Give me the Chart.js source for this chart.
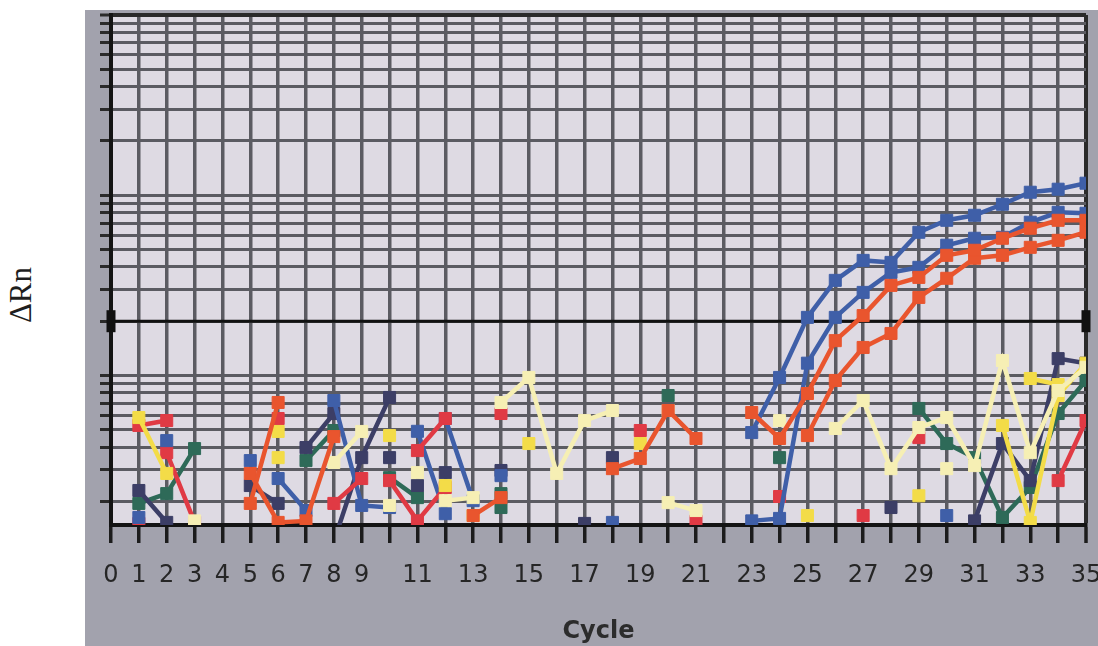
<!DOCTYPE html>
<html>
<head>
<meta charset="utf-8">
<script src="https://cdn.jsdelivr.net/npm/chart.js@4"></script>
<style>
  html, body { margin: 0; padding: 0; background: #fff; }
  body { width: 1098px; height: 646px; position: relative; overflow: hidden; }
  #panel { position: absolute; left: 85px; top: 10px; width: 1013px; height: 636px; background: #a2a2ad; }
  #ylabel { position: absolute; left: 21px; top: 295px; transform: translate(-50%, -50%) rotate(-90deg);
            font: 31px 'Liberation Serif', serif; color: #1e1e1e; white-space: nowrap; }
</style>
</head>
<body>
<div id="ylabel">ΔRn</div>
<div id="panel"><canvas id="js--chart" width="1013" height="636"></canvas></div>
<script>
const _ = null;

const cycles = [0, 1, 2, 3, 4, 5, 6, 7, 8, 9, 10, 11, 12, 13, 14, 15, 16, 17,
                18, 19, 20, 21, 22, 23, 24, 25, 26, 27, 28, 29, 30, 31, 32, 33, 34, 35];
const tickLabelCycles = [0, 1, 2, 3, 4, 5, 6, 7, 8, 9, 11, 13, 15, 17, 19, 21, 23, 25, 27, 29, 31, 33, 35];
const gridValues = [0.002, 0.003, 0.004, 0.005, 0.006, 0.007, 0.008, 0.009,
                    0.01, 0.02, 0.03, 0.04, 0.05, 0.06, 0.07, 0.08, 0.09,
                    0.1, 0.2, 0.3, 0.4, 0.5, 0.6, 0.7, 0.8, 0.9, 1];
const thresholdValue = 0.02;

// amplification curves (cycles 0-35)
const blueA = [
  _, .00163, _, _, _, .00337,
  _, _, _, _, _, _,
  _, _, .00278, _, _, _,
  .00153, _, _, _, _, .00482,
  .00975, .0210, .0337, .0435, .0424, .0623,
  .0726, .0774, .0891, .1039, .1080, .1166
];
const blueB = [
  _, _, .00435, _, _, _,
  .00268, .00178, _, _, _, _,
  _, _, _, _, _, _,
  _, _, _, _, _, .00156,
  .00161, .0117, .0210, .0289, .0373, .0398,
  .0528, .0577, .0584, .0708, .0804, .0794
];
const orangeA = [
  _, _, _, _, _, .00195,
  .00708, _, _, _, _, _,
  _, .00167, .00210, _, _, _,
  .00304, .00346, .00639, .00447, _, .00623,
  .00447, .00794, .0156, .0215, .0316, .0350,
  .0464, .0495, .0577, .0656, .0726, .0726
];
const orangeB = [
  _, _, _, _, _, .00286,
  .00153, .00156, .00458, _, _, _,
  _, _, _, _, _, _,
  _, _, _, _, _, _,
  _, .00464, .00938, .0143, .0171, .0271,
  .0346, .0447, .0464, .0514, .0562, .0623
];

// background wells
const blueC = [
  _, _, _, _, _, _,
  _, _, .00726, .00190, .00185, _,
  .00577, .00202, _, _, _, _,
  _, _, _, _, _, _,
  _, _, _, _, _, _,
  _, _, _, _, _, _
];
const blueD = [
  _, _, _, _, _, _,
  _, _, _, _, _, .00490,
  .00171, _, _, _, _, _,
  _, _, _, _, _, _,
  _, _, _, _, _, _,
  .00167, _, _, _, _, _
];
const navyA = [
  _, .00230, .00153, _, _, .00245,
  .00195, _, .0012, .00350, .00755, _,
  .00289, _, _, _, _, .00151,
  _, _, _, _, _, _,
  _, _, _, _, .00185, _,
  _, .00156, .00419, .00261, .0124, .0117
];
const navyB = [
  _, _, _, _, _, _,
  _, .00398, .00615, _, .00350, _,
  _, _, .00297, _, _, _,
  .00350, _, _, _, _, _,
  _, _, _, _, _, _,
  _, _, _, _, _, _
];
const navyC = [
  _, _, _, _, _, _,
  _, _, _, _, _, .00245,
  _, _, _, _, _, _,
  _, _, _, _, _, _,
  _, _, _, _, _, _,
  _, _, _, _, _, _
];
const tealA = [
  _, .00195, .00221, .00393, _, _,
  _, .00337, .00495, _, .00271, .00210,
  _, _, .00221, _, _, _,
  _, _, .00774, _, _, _,
  .00350, _, _, _, _, .00656,
  .00419, .00350, .00163, .00239, .00615, .00938
];
const tealB = [
  _, _, _, _, _, _,
  _, _, _, _, _, _,
  _, _, .00185, _, _, _,
  _, _, _, _, _, _,
  _, _, _, _, _, _,
  _, _, _, _, _, _
];
const redA = [
  _, .00528, .00562, _, _, _,
  .00577, _, .00195, .00268, _, .00383,
  .00577, _, .00615, _, _, _,
  _, .00495, _, .00156, _, _,
  .00213, _, _, .00167, _, .00452,
  _, _, _, _, .00261, .00562
];
const redB = [
  _, _, .00373, .00153, _, _,
  _, _, _, _, .00261, .00156,
  .00239, _, _, _, _, _,
  _, _, _, _, _, _,
  _, _, _, _, _, _,
  _, _, _, _, _, _
];
const redC = [
  _, .00151, _, _, _, _,
  _, _, _, _, _, _,
  _, _, _, _, _, _,
  _, _, _, _, _, _,
  _, _, _, _, _, _,
  _, _, _, _, _, _
];
const yellowA = [
  _, .00584, .00286, _, _, _,
  .00489, _, _, _, .00464, _,
  .00245, _, _, .00419, _, _,
  _, .00419, _, _, _, _,
  _, .00167, _, _, _, .00215,
  _, _, .00528, .00153, .00774, .0117
];
const yellowB = [
  _, _, _, _, _, _,
  .00350, _, _, _, _, _,
  _, .00167, _, _, _, _,
  _, _, _, _, _, _,
  _, _, _, _, _, _,
  _, _, _, .00962, .0089, _
];
const paleA = [
  _, _, _, .00156, _, _,
  _, _, .00329, .00489, _, .00289,
  _, _, .00708, .00975, .00286, .00562,
  .00639, _, .00197, .00178, _, _,
  .00562, _, .00508, .00726, .00304, .00514,
  .00584, .00316, .0121, .00373, .00825, .0111
];
const paleB = [
  _, _, _, _, _, _,
  _, _, _, _, .00190, _,
  .00202, .00210, _, _, _, _,
  _, _, .00639, _, _, _,
  _, _, _, _, _, _,
  .00304, _, _, _, _, _
];

const BLUE = '#3f5fa8';
const NAVY = '#3c3e66';
const TEAL = '#2e6a58';
const RED = '#e03a44';
const ORANGE = '#e9552e';
const YELLOW = '#f3dc48';
const PALE = '#f6efb4';

function well(data, color) {
    return {
        data: data,
        borderColor: color,
        backgroundColor: color,
        borderWidth: 4.5,
        pointStyle: 'rect',
        pointRadius: 8.5,
        pointHoverRadius: 8.5,
        pointBorderWidth: 1,
        spanGaps: false,
        tension: 0,
        clip: 0
    };
}

const threshold = {
    data: cycles.map((c, i) => (i === 0 || i === cycles.length - 1) ? thresholdValue : null),
    borderColor: '#111',
    backgroundColor: '#111',
    borderWidth: 3,
    spanGaps: true,
    pointStyle: 'line',
    rotation: 90,
    pointRadius: 11,
    pointHoverRadius: 11,
    pointBorderWidth: 9,
    pointBorderColor: '#111',
    clip: false
};

const plotBackground = {
    id: 'plotBackground',
    beforeDraw(chart) {
        const {ctx, chartArea} = chart;
        ctx.save();
        ctx.fillStyle = '#dedae3';
        ctx.fillRect(chartArea.left, chartArea.top, chartArea.right - chartArea.left, chartArea.bottom - chartArea.top);
        ctx.restore();
    }
};

const config = {
    type: 'line',
    data: {
        labels: cycles,
        datasets: [
            well(orangeA, ORANGE), well(orangeB, ORANGE),
            well(blueA, BLUE), well(blueB, BLUE),
            well(paleA, PALE), well(paleB, PALE),
            well(yellowA, YELLOW), well(yellowB, YELLOW),
            well(redA, RED), well(redB, RED), well(redC, RED),
            well(blueC, BLUE), well(blueD, BLUE),
            well(navyA, NAVY), well(navyB, NAVY), well(navyC, NAVY),
            well(tealA, TEAL), well(tealB, TEAL),
            threshold
        ]
    },
    options: {
        responsive: false,
        animation: false,
        events: [],
        layout: { autoPadding: false, padding: { top: 5, right: 12, left: 0, bottom: 0 } },
        scales: {
            x: {
                type: 'category',
                offset: false,
                grid: {
                    offset: false,
                    color: ctx => ctx.index === cycles.length - 1 ? '#2a2a2a' : '#5b5b62',
                    lineWidth: ctx => ctx.index === cycles.length - 1 ? 4 : 3.5,
                    tickLength: 18,
                    tickColor: '#1c1c1c',
                    tickWidth: 3.5
                },
                border: { color: '#141414', width: 4 },
                ticks: {
                    autoSkip: false,
                    maxRotation: 0,
                    padding: 18,
                    color: '#262626',
                    font: { family: 'DejaVu Sans', size: 24 },
                    callback: (value, index) => tickLabelCycles.includes(cycles[index]) ? String(cycles[index]) : ''
                },
                title: {
                    display: true,
                    text: 'Cycle',
                    color: '#2c2c2c',
                    font: { family: 'DejaVu Sans', size: 24, weight: 'bold' },
                    padding: { top: 0, bottom: 0 }
                },
                afterFit(scale) {
                    scale.height = 121;
                    scale.paddingLeft = 0;
                    scale.paddingRight = 0;
                }
            },
            y: {
                type: 'logarithmic',
                min: 0.00148,
                max: 1,
                afterBuildTicks(scale) {
                    scale.ticks = gridValues.map(v => ({ value: v }));
                },
                grid: {
                    color: ctx => ctx.tick && ctx.tick.value === 1 ? '#2a2a2a' : '#5b5b62',
                    lineWidth: ctx => ctx.tick && ctx.tick.value === 1 ? 4 : 3,
                    tickLength: 11,
                    tickColor: '#2a2a2a',
                    tickWidth: 3
                },
                border: { color: '#141414', width: 4 },
                ticks: { display: false },
                afterFit(scale) {
                    scale.width = 26;
                }
            }
        },
        plugins: {
            legend: { display: false },
            tooltip: { enabled: false }
        }
    },
    plugins: [plotBackground]
};

new Chart(document.getElementById('js--chart'), config);
</script>
</body>
</html>
